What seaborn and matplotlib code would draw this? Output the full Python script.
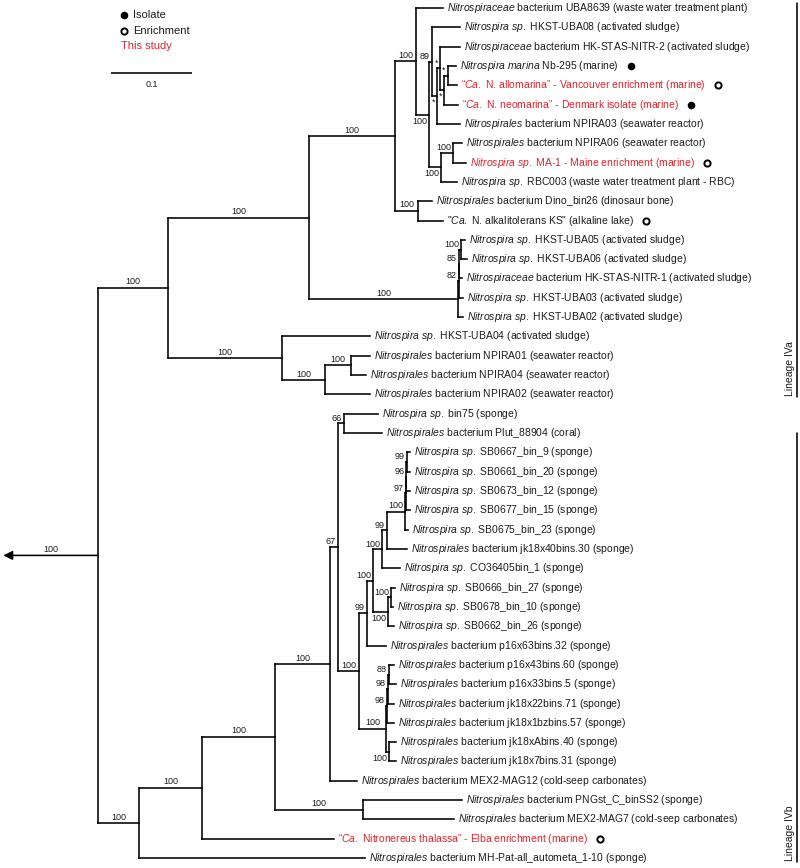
import re
import matplotlib
matplotlib.use("Agg")
import matplotlib.pyplot as plt
from matplotlib.collections import LineCollection
import seaborn as sns

# tree pieces in newick; leaves numbered top -> bottom, internal labels = support
clade_marine = "(1:0.0346,((2:0.0247,((3:0.0099,4:0.0111)*:0.0049,5:0.0173)*:0.0049)*:0.0037,6:0.0284)*:0.0062)89:0.0037"
clade_ma1 = "((7:0.0111,8:0.0160)100:0.0148,9:0.0198)100:0.0148"
clade_nitro = f"((0:0.0333,({clade_marine},{clade_ma1})100:0.0160)100:0.0259,(10:0.0173,11:0.0309)100:0.0284)100:0.1062"
clade_hkst = "((((12:0.0049,13:0.0074)100:0.0025,14:0.0037)85:0.0006,15:0.0056)82:0.0006,16:0.0062)100:0.1840"
clade_npira = "(17:0.1086,((18:0.0235,19:0.0185)100:0.0321,20:0.0556)100:0.0531)100:0.1407"
lineage_a = f"(({clade_nitro},{clade_hkst})100:0.1741,{clade_npira})100:0.0864"

clade_sb = "((((23:0.0037,24:0.0037)99:0.0006,25:0.0043)96:0.0006,26:0.0049)97:0.0012,27:0.0037)100:0.0222"
clade_j = f"(({clade_sb},28:0.0247)99:0.0062,29:0.0222)100:0.0111"
clade_k = "((30:0.0049,31:0.0025)100:0.0037,32:0.0074)100:0.0185"
clade_g = f"(({clade_j},{clade_k})100:0.0074,33:0.0235)99:0.0099"
clade_i = "((((34:0.0062,35:0.0086)88:0.0012,36:0.0074)98:0.0012,37:0.0086)98:0.0012,(38:0.0086,39:0.0086)100:0.0037)100:0.0333"
clade_sponge = f"(((21:0.0420,22:0.0469)66:0.0074,({clade_g},{clade_i})100:0.0259)67:0.0099,40:0.0333)100:0.0679"
lineage_b = f"((({clade_sponge},(41:0.1222,42:0.1123)100:0.1086)100:0.0901,43:0.1630)100:0.0778,44:0.2790)100:0.0506"
tree_newick = f"({lineage_a},{lineage_b});"

leaf_names = [
    "{Nitrospiraceae} bacterium UBA8639 (waste water treatment plant)",
    "{Nitrospira sp.} HKST-UBA08 (activated sludge)",
    "{Nitrospiraceae} bacterium HK-STAS-NITR-2 (activated sludge)",
    "{Nitrospira marina} Nb-295 (marine)",
    "\u201c{Ca.} N. allomarina\u201d - Vancouver enrichment (marine)",
    "\u201c{Ca.} N. neomarina\u201d - Denmark isolate (marine)",
    "{Nitrospirales} bacterium NPIRA03 (seawater reactor)",
    "{Nitrospirales} bacterium NPIRA06 (seawater reactor)",
    "{Nitrospira sp.} MA-1 - Maine enrichment (marine)",
    "{Nitrospira sp.} RBC003 (waste water treatment plant - RBC)",
    "{Nitrospirales} bacterium Dino_bin26 (dinosaur bone)",
    "\"{Ca.} N. alkalitolerans KS\" (alkaline lake)",
    "{Nitrospira sp.} HKST-UBA05 (activated sludge)",
    "{Nitrospira sp.} HKST-UBA06 (activated sludge)",
    "{Nitrospiraceae} bacterium HK-STAS-NITR-1 (activated sludge)",
    "{Nitrospira sp.} HKST-UBA03 (activated sludge)",
    "{Nitrospira sp.} HKST-UBA02 (activated sludge)",
    "{Nitrospira sp.} HKST-UBA04 (activated sludge)",
    "{Nitrospirales} bacterium NPIRA01 (seawater reactor)",
    "{Nitrospirales} bacterium NPIRA04 (seawater reactor)",
    "{Nitrospirales} bacterium NPIRA02 (seawater reactor)",
    "{Nitrospira sp.} bin75 (sponge)",
    "{Nitrospirales} bacterium Plut_88904 (coral)",
    "{Nitrospira sp.} SB0667_bin_9 (sponge)",
    "{Nitrospira sp.} SB0661_bin_20 (sponge)",
    "{Nitrospira sp.} SB0673_bin_12 (sponge)",
    "{Nitrospira sp.} SB0677_bin_15 (sponge)",
    "{Nitrospira sp.} SB0675_bin_23 (sponge)",
    "{Nitrospirales} bacterium jk18x40bins.30 (sponge)",
    "{Nitrospira sp.} CO36405bin_1 (sponge)",
    "{Nitrospira sp.} SB0666_bin_27 (sponge)",
    "{Nitrospira sp.} SB0678_bin_10 (sponge)",
    "{Nitrospira sp.} SB0662_bin_26 (sponge)",
    "{Nitrospirales} bacterium p16x63bins.32 (sponge)",
    "{Nitrospirales} bacterium p16x43bins.60 (sponge)",
    "{Nitrospirales} bacterium p16x33bins.5 (sponge)",
    "{Nitrospirales} bacterium jk18x22bins.71 (sponge)",
    "{Nitrospirales} bacterium jk18x1bzbins.57 (sponge)",
    "{Nitrospirales} bacterium jk18xAbins.40 (sponge)",
    "{Nitrospirales} bacterium jk18x7bins.31 (sponge)",
    "{Nitrospirales} bacterium MEX2-MAG12 (cold-seep carbonates)",
    "{Nitrospirales} bacterium PNGst_C_binSS2 (sponge)",
    "{Nitrospirales} bacterium MEX2-MAG7 (cold-seep carbonates)",
    "\u201c{Ca.} Nitronereus thalassa\u201d - Elba enrichment (marine)",
    "{Nitrospirales} bacterium MH-Pat-all_autometa_1-10 (sponge)",
]
isolates = [3, 5]
enrichments = [4, 8, 11, 43]
this_study = [4, 5, 8, 43]

root_stem = 0.117      # outgroup branch (arrow)
root_support = "100"
scale_len = 0.1
lineages = ["Lineage IVa", "Lineage IVb"]
lineage_span = [(-0.26, 20.13), (22.0, 44.2)]   # in leaf rows

RED = "#d7262e"
INK = "#1c1c1c"

sns.set_style("white")
plt.rcParams["font.family"] = ["Liberation Sans", "DejaVu Sans"]
plt.rcParams["mathtext.fontset"] = "custom"
plt.rcParams["mathtext.it"] = "Liberation Sans:italic"
plt.rcParams["mathtext.rm"] = "Liberation Sans"


def parse_newick(s):
    s = re.sub(r"\s+", "", s).rstrip(";")
    pos = 0

    def node():
        nonlocal pos
        kids = []
        if s[pos] == "(":
            pos += 1
            kids.append(node())
            while s[pos] == ",":
                pos += 1
                kids.append(node())
            pos += 1
        m = re.match(r"([^:,();]*)(?::([\d.]+))?", s[pos:])
        pos += m.end()
        return {"kids": kids, "label": m.group(1), "length": float(m.group(2) or 0)}

    return node()


nodes = []


def layout(n, x0, upper=True):
    n["x"] = x0 + n["length"]
    n["upper"] = upper
    nodes.append(n)
    for i, k in enumerate(n["kids"]):
        layout(k, n["x"], i == 0)
    if n["kids"]:
        n["y"] = (n["kids"][0]["y"] + n["kids"][-1]["y"]) / 2
    else:
        n["y"] = float(n["label"])


root = parse_newick(tree_newick)
layout(root, 0.0)


def fmt(name):
    return re.sub(r"\{(.+?)\}",
                  lambda m: "$\\mathit{" + m.group(1).replace(" ", "\\ ") + "}$", name)


# pixel helpers for the page layout (800 x 868 px)
PXU = 810.0        # px per substitution unit
ROW = 19.32        # px per leaf row
def px2x(p): return (p - 98) / PXU
def px2y(p): return (p - 8) / ROW


fig = plt.figure(figsize=(8, 8.68), dpi=100)
ax = fig.add_axes([0, 0, 1, 1])

segs = []
for n in nodes:
    if n is not root:
        segs.append([(n["x"] - n["length"], n["y"]), (n["x"], n["y"])])
    if n["kids"]:
        segs.append([(n["x"], n["kids"][0]["y"]), (n["x"], n["kids"][-1]["y"])])
ax.add_collection(LineCollection(segs, colors="black", linewidths=1.15, capstyle="projecting"))

# root arrow
ax.annotate("", xy=(-root_stem, root["y"]), xytext=(0, root["y"]),
            arrowprops=dict(arrowstyle="-|>,head_length=0.45,head_width=0.22", lw=1.15,
                            color="black", shrinkA=0, shrinkB=0, mutation_scale=12))
ax.annotate(root_support, xy=(-root_stem / 2, root["y"]), xytext=(0, 1), textcoords="offset points",
            ha="center", va="bottom", fontsize=6.5, color=INK)

# support values
for n in nodes:
    if n is root or not n["kids"] or not n["label"]:
        continue
    if n["length"] * PXU >= 17:
        ax.annotate(n["label"], xy=(n["x"] - n["length"] / 2, n["y"]), xytext=(0, 1),
                    textcoords="offset points", ha="center", va="bottom", fontsize=6.5, color=INK)
    else:
        ax.annotate(n["label"], xy=(n["x"], n["y"]), xytext=(-1.5, 0.5 if n["upper"] else -1.5),
                    textcoords="offset points", ha="right",
                    va="bottom" if n["upper"] else "top", fontsize=6.5, color=INK)

# leaf labels
leaf_text = {}
for n in nodes:
    if n["kids"]:
        continue
    i = int(n["label"])
    leaf_text[i] = ax.annotate(fmt(leaf_names[i]), xy=(n["x"], n["y"]), xytext=(3, 0),
                               textcoords="offset points", ha="left", va="center", fontsize=7.5,
                               color=RED if i in this_study else INK)

ax.set_xlim(px2x(0), px2x(800))
ax.set_ylim(px2y(868), px2y(0))
ax.axis("off")

# isolate / enrichment markers right after the labels
fig.canvas.draw()
rend = fig.canvas.get_renderer()
inv = ax.transData.inverted()


def marker_pos(idx):
    xs, ys = [], []
    for i in idx:
        bb = leaf_text[i].get_window_extent(rend)
        xs.append(inv.transform((bb.x1 + 12, 0))[0])
        ys.append(float(i))
    return xs, ys


ix, iy = marker_pos(isolates)
ex, ey = marker_pos(enrichments)
sns.scatterplot(x=ix + [px2x(124)], y=iy + [px2y(15)], ax=ax, s=30, color="black",
                edgecolor="black", linewidth=0, legend=False)
sns.scatterplot(x=ex + [px2x(124)], y=ey + [px2y(31)], ax=ax, s=20, color="white",
                edgecolor="black", linewidth=1.4, legend=False)

# legend text
ax.text(px2x(133), px2y(15), "Isolate", ha="left", va="center", fontsize=8, color=INK)
ax.text(px2x(133), px2y(31), "Enrichment", ha="left", va="center", fontsize=8, color=INK)
ax.text(px2x(121), px2y(46), "This study", ha="left", va="center", fontsize=8, color=RED)

# scale bar
sx = px2x(111)
ax.plot([sx, sx + scale_len], [px2y(73)] * 2, color="black", lw=1.15, solid_capstyle="butt")
ax.text(sx + scale_len / 2, px2y(80), f"{scale_len:g}", ha="center", va="top", fontsize=6.5, color=INK)

# lineage brackets
bx = px2x(797)
for name, (y0, y1) in zip(lineages, lineage_span):
    ax.plot([bx, bx], [y0, y1], color="black", lw=1.15)
    ax.text(px2x(790), y1 - 0.05, name, rotation=90, ha="center", va="bottom", fontsize=7.5, color=INK)

ax.set_xlim(px2x(0), px2x(800))
ax.set_ylim(px2y(868), px2y(0))
fig.savefig("out.png", dpi=100, facecolor="white")
